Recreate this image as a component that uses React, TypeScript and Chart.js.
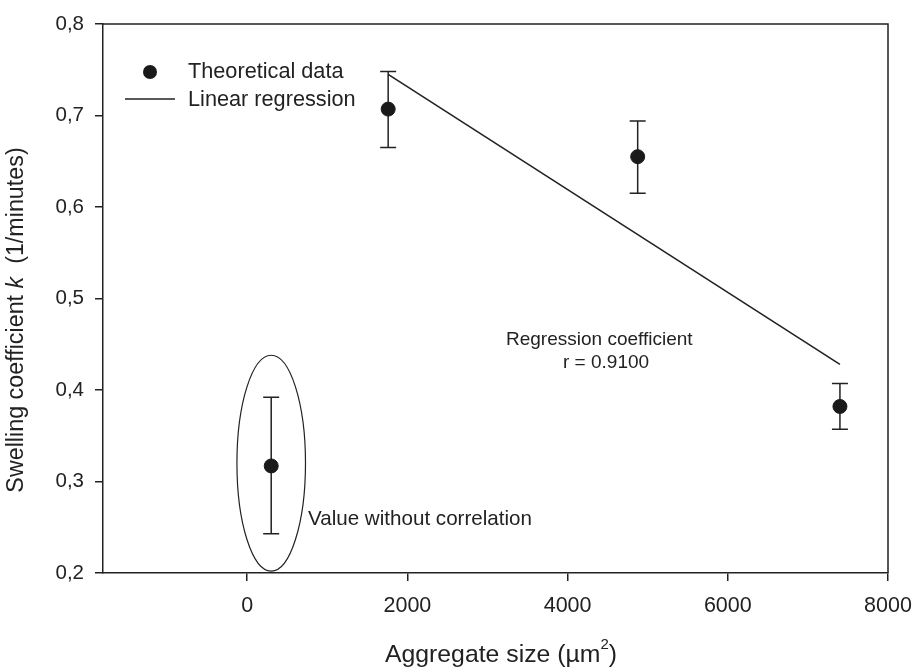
import React, { useEffect, useRef } from "react";
import { Chart, registerables } from "chart.js";

Chart.register(...registerables);

// ---- Data ----
const aggregateSizes = [300, 1760, 4875, 7400];
const swellingK = [0.317, 0.707, 0.655, 0.382];
const kUpper = [0.392, 0.748, 0.694, 0.407];
const kLower = [0.243, 0.665, 0.615, 0.357];
const regressionX = [1760, 7400];
const regressionY = [0.745, 0.428];
const xTicks = [0, 2000, 4000, 6000, 8000];
const yTicks = [0.2, 0.3, 0.4, 0.5, 0.6, 0.7, 0.8];
const outlierIndex = 0;

const FONT = '"Liberation Sans", Arial, Helvetica, sans-serif';
const INK = "#222";

const decorPlugin = {
  id: "decor",
  beforeDatasetsDraw(chart: any) {
    const ctx = chart.ctx;
    const xs = chart.scales.x;
    const ys = chart.scales.y;
    ctx.save();
    ctx.strokeStyle = INK;
    ctx.lineWidth = 1.5;
    for (let i = 0; i < aggregateSizes.length; i++) {
      const px = xs.getPixelForValue(aggregateSizes[i]);
      const top = ys.getPixelForValue(kUpper[i]);
      const bot = ys.getPixelForValue(kLower[i]);
      ctx.beginPath();
      ctx.moveTo(px, top);
      ctx.lineTo(px, bot);
      ctx.moveTo(px - 8, top);
      ctx.lineTo(px + 8, top);
      ctx.moveTo(px - 8, bot);
      ctx.lineTo(px + 8, bot);
      ctx.stroke();
    }
    ctx.restore();
  },
  afterDraw(chart: any) {
    const ctx = chart.ctx;
    const xs = chart.scales.x;
    const ys = chart.scales.y;
    const a = chart.chartArea;
    ctx.save();
    // top & right frame
    ctx.strokeStyle = INK;
    ctx.lineWidth = 1.5;
    ctx.beginPath();
    ctx.moveTo(a.left, a.top);
    ctx.lineTo(a.right, a.top);
    ctx.lineTo(a.right, a.bottom);
    ctx.stroke();

    // ellipse around outlier
    const cx = xs.getPixelForValue(aggregateSizes[outlierIndex]);
    const cy = ys.getPixelForValue(0.32);
    const rx = Math.abs(xs.getPixelForValue(aggregateSizes[outlierIndex] + 428) - cx);
    const ry = Math.abs(ys.getPixelForValue(0.202) - cy);
    ctx.lineWidth = 1.2;
    ctx.beginPath();
    ctx.ellipse(cx, cy, rx, ry, 0, 0, Math.PI * 2);
    ctx.stroke();

    ctx.fillStyle = INK;
    ctx.textBaseline = "middle";
    ctx.textAlign = "left";
    // legend
    ctx.font = `21.7px ${FONT}`;
    ctx.beginPath();
    ctx.arc(150, 72, 7, 0, Math.PI * 2);
    ctx.fillStyle = "#1a1a1a";
    ctx.fill();
    ctx.fillStyle = INK;
    ctx.fillText("Theoretical data", 188, 72);
    ctx.lineWidth = 1.5;
    ctx.beginPath();
    ctx.moveTo(125, 99);
    ctx.lineTo(175, 99);
    ctx.stroke();
    ctx.fillText("Linear regression", 188, 100);

    // annotations
    ctx.font = `19px ${FONT}`;
    ctx.fillText("Regression coefficient", 506, 340);
    ctx.fillText("r = 0.9100", 563, 363);
    ctx.font = `20.6px ${FONT}`;
    ctx.fillText("Value without correlation", 308, 519);

    // y title
    ctx.save();
    ctx.translate(17, 320);
    ctx.rotate(-Math.PI / 2);
    const normal = `23.3px ${FONT}`;
    const ital = `italic 23.3px ${FONT}`;
    const segs: [string, string][] = [
      ["Swelling coefficient ", normal],
      ["k", ital],
      ["  (1/minutes)", normal],
    ];
    let total = 0;
    for (const [t, f] of segs) {
      ctx.font = f;
      total += ctx.measureText(t).width;
    }
    let xx = -total / 2;
    for (const [t, f] of segs) {
      ctx.font = f;
      ctx.fillText(t, xx, 0);
      xx += ctx.measureText(t).width;
    }
    ctx.restore();

    // x title
    const xFont = `24.8px ${FONT}`;
    const supFont = `15px ${FONT}`;
    const t1 = "Aggregate size (\u00b5m";
    const t2 = "2";
    const t3 = ")";
    ctx.font = xFont;
    const w1 = ctx.measureText(t1).width;
    const w3 = ctx.measureText(t3).width;
    ctx.font = supFont;
    const w2 = ctx.measureText(t2).width;
    const tot = w1 + w2 + w3;
    let sx = 501 - tot / 2;
    ctx.font = xFont;
    ctx.fillText(t1, sx, 655);
    sx += w1;
    ctx.font = supFont;
    ctx.fillText(t2, sx, 645);
    sx += w2;
    ctx.font = xFont;
    ctx.fillText(t3, sx, 655);

    ctx.restore();
  },
};

export default function App() {
  const ref = useRef<HTMLCanvasElement | null>(null);
  useEffect(() => {
    if (!ref.current) return;
    const chart = new Chart(ref.current, {
      type: "scatter",
      data: {
        datasets: [
          {
            label: "Theoretical data",
            data: aggregateSizes.map((x, i) => ({ x, y: swellingK[i] })),
            backgroundColor: "#1a1a1a",
            borderColor: "#1a1a1a",
            pointRadius: 7,
            pointHoverRadius: 7,
            showLine: false,
          },
          {
            label: "Linear regression",
            data: regressionX.map((x, i) => ({ x, y: regressionY[i] })),
            borderColor: INK,
            borderWidth: 1.6,
            pointRadius: 0,
            showLine: true,
          } as any,
        ],
      },
      options: {
        animation: false,
        responsive: false,
        events: [],
        layout: { padding: { left: 0, top: 24, right: 26, bottom: 0 } },
        plugins: { legend: { display: false }, tooltip: { enabled: false } },
        scales: {
          x: {
            type: "linear",
            min: -1800,
            max: 8000,
            afterBuildTicks: (s: any) => {
              s.ticks = xTicks.map((v) => ({ value: v }));
            },
            afterFit: (s: any) => {
              s.height = 94;
              s.paddingLeft = 0;
              s.paddingRight = 0;
            },
            ticks: {
              color: INK,
              font: { family: FONT, size: 21.5 },
              padding: 12,
              maxRotation: 0,
              callback: (v: any) => String(v),
            },
            grid: {
              drawOnChartArea: false,
              drawTicks: true,
              tickLength: 8,
              color: INK,
              lineWidth: 1.5,
            },
            border: { display: true, color: INK, width: 1.5 },
          },
          y: {
            type: "linear",
            min: 0.2,
            max: 0.8,
            afterBuildTicks: (s: any) => {
              s.ticks = yTicks.map((v) => ({ value: v }));
            },
            afterFit: (s: any) => {
              s.width = 103;
              s.paddingTop = 0;
              s.paddingBottom = 0;
            },
            ticks: {
              color: INK,
              font: { family: FONT, size: 20.5 },
              padding: 11,
              callback: (v: any) => Number(v).toFixed(1).replace(".", ","),
            },
            grid: {
              drawOnChartArea: false,
              drawTicks: true,
              tickLength: 8,
              color: INK,
              lineWidth: 1.5,
            },
            border: { display: true, color: INK, width: 1.5 },
          },
        },
      },
      plugins: [decorPlugin],
    } as any);
    return () => chart.destroy();
  }, []);
  return (
    <div style={{ position: "fixed", left: 0, top: 0, width: 914, height: 667, background: "#fff" }}>
      <canvas ref={ref} width={914} height={667} style={{ width: 914, height: 667 }} />
    </div>
  );
}
